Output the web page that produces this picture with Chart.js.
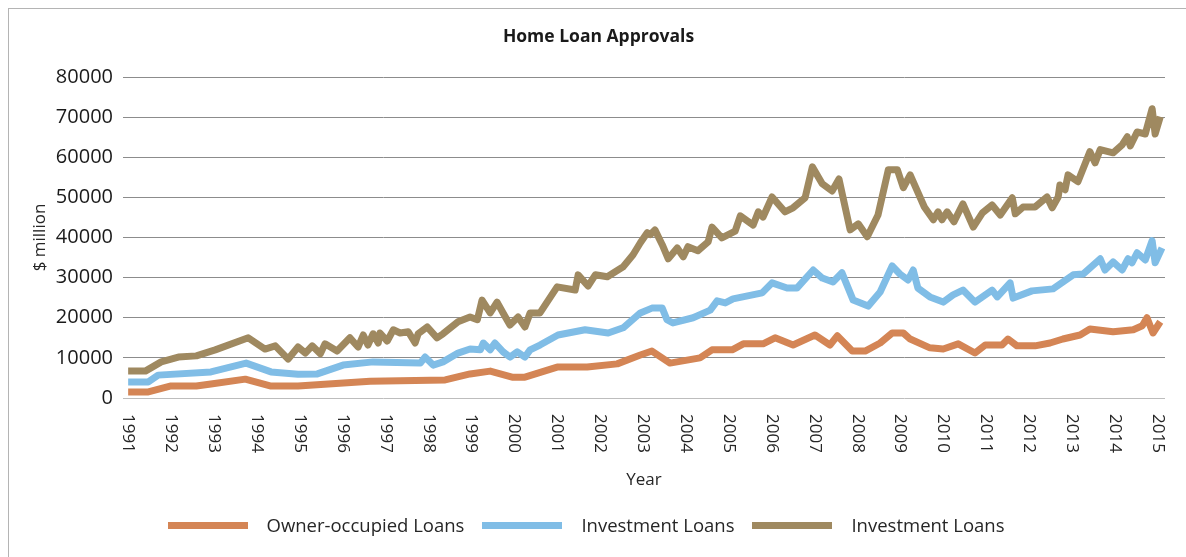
<!DOCTYPE html>
<html>
<head>
<meta charset="utf-8">
<script src="https://cdn.jsdelivr.net/npm/chart.js@4/dist/chart.umd.min.js"></script>
<style>
  html, body { margin: 0; padding: 0; background: #fff; }
  #wrap { position: relative; width: 1186px; height: 557px; overflow: hidden; }
  #frame { position: absolute; left: 8px; top: 8px; width: 1200px; height: 600px;
           border-left: 1px solid #b4b4b4; border-top: 1px solid #b4b4b4; }
  canvas { position: absolute; left: 0; top: 0; }
  #title { position: absolute; left: 0; top: 24px; width: 1175px; padding-left: 11px; text-align: center;
           font: bold 17.5px/22px "Open Sans", sans-serif; color: #1a1a1a; }
  #legend { position: absolute; left: 0; width: 1172px; padding-right: 14px; top: 512px; display: flex;
            justify-content: center; font: 18.5px/26px "Open Sans", sans-serif; color: #262626; }
  .item { display: flex; align-items: center; margin: 0 9px; }
  .swatch { width: 80px; height: 7px; margin-right: 19px; }
</style>
</head>
<body>
<div id="wrap">
  <div id="frame"></div>
  <canvas id="loanChart" width="1186" height="557"></canvas>
  <div id="title">Home Loan Approvals</div>
  <div id="legend"></div>
</div>
<script>
const yearLabels = ['1991','1992','1993','1994','1995','1996','1997','1998','1999','2000','2001','2002',
  '2003','2004','2005','2006','2007','2008','2009','2010','2011','2012','2013','2014','2015'];
const seriesNames = ['Owner-occupied Loans', 'Investment Loans', 'Investment Loans'];
const seriesColors = ['#d48555', '#80bde6', '#9f8960'];

const ownerYears = [1991.00,1991.47,1992.00,1992.59,1992.93,1993.73,1994.31,1994.96,1996.64,1998.39,1998.97,1999.44,
  1999.95,2000.25,2001.00,2001.70,2002.40,2002.94,2003.21,2003.63,2004.33,2004.61,2005.08,2005.34,2005.80,2006.08,
  2006.50,2007.01,2007.36,2007.53,2007.88,2008.18,2008.53,2008.81,2009.07,2009.23,2009.69,2010.00,2010.35,2010.74,
  2010.98,2011.37,2011.51,2011.72,2012.14,2012.49,2012.79,2013.19,2013.42,2013.96,2014.43,2014.64,2014.75,2014.89,2015.06];
const ownerValues = [1500,1500,3000,3000,3500,4700,3000,3000,4200,4500,6000,6700,
  5200,5200,7700,7700,8500,10700,11700,8700,10000,12000,12000,13500,13500,15000,
  13200,15700,13200,15500,11700,11700,13700,16200,16200,14700,12500,12200,13500,11200,
  13200,13200,14700,13000,13000,13700,14700,15700,17200,16500,17000,18000,20000,16200,19000];

const investYears = [1991.00,1991.47,1991.70,1992.93,1993.75,1994.33,1994.96,1995.41,1996.01,1996.71,1997.81,1997.92,
  1998.11,1998.34,1998.69,1998.97,1999.21,1999.28,1999.44,1999.55,1999.74,1999.90,2000.07,2000.25,2000.37,2000.60,
  2001.02,2001.65,2002.19,2002.54,2002.94,2003.21,2003.45,2003.56,2003.70,2004.17,2004.57,2004.73,2004.92,2005.10,
  2005.78,2006.01,2006.36,2006.59,2006.97,2007.18,2007.43,2007.64,2007.90,2008.25,2008.53,2008.81,2008.99,2009.18,
  2009.30,2009.41,2009.69,2010.00,2010.23,2010.46,2010.74,2011.14,2011.26,2011.56,2011.63,2012.07,2012.56,2013.03,
  2013.26,2013.66,2013.77,2013.96,2014.17,2014.31,2014.40,2014.52,2014.71,2014.87,2014.94,2015.10];
const investValues = [4000,4000,5700,6500,8700,6500,5900,6000,8200,9000,8700,10200,
  8200,9000,11200,12200,12000,13700,12000,13700,11500,10200,11500,10200,12000,13200,
  15700,17000,16200,17500,21200,22400,22400,19500,18700,20000,21900,24200,23700,24700,
  26200,28700,27400,27400,31900,29900,28900,31200,24400,22900,26400,32900,30900,29400,
  31900,27400,25200,23900,25700,26900,23900,26900,25200,28700,24900,26700,27200,30700,
  30900,34700,31900,33900,31900,34700,33700,36200,34400,39200,33700,37400];

const totalYears = [1991.00,1991.40,1991.77,1992.17,1992.59,1993.03,1993.80,1994.19,1994.43,1994.73,1994.96,1995.13,
  1995.29,1995.48,1995.59,1995.87,1996.17,1996.36,1996.48,1996.59,1996.71,1996.83,1996.87,1997.04,1997.18,1997.34,
  1997.53,1997.69,1997.76,1997.97,1998.20,1998.34,1998.69,1998.97,1999.14,1999.25,1999.44,1999.60,1999.74,1999.90,
  2000.09,2000.25,2000.37,2000.60,2001.00,2001.42,2001.49,2001.72,2001.89,2002.17,2002.54,2002.77,2002.94,2003.10,
  2003.17,2003.28,2003.45,2003.59,2003.80,2003.94,2004.05,2004.28,2004.52,2004.61,2004.84,2005.15,2005.27,2005.57,
  2005.69,2005.80,2006.01,2006.31,2006.50,2006.78,2006.95,2007.18,2007.41,2007.57,2007.83,2008.02,2008.23,2008.48,
  2008.72,2008.93,2009.07,2009.23,2009.56,2009.77,2009.88,2009.97,2010.09,2010.25,2010.46,2010.70,2010.91,2011.14,
  2011.33,2011.61,2011.68,2011.86,2012.14,2012.42,2012.54,2012.68,2012.72,2012.84,2012.91,2013.14,2013.42,2013.54,
  2013.66,2013.96,2014.17,2014.29,2014.36,2014.52,2014.71,2014.87,2014.94,2015.06];
const totalValues = [6700,6700,9000,10200,10500,12000,15000,12200,13000,9700,12700,11200,
  13000,11000,13500,11700,15000,12700,15700,13200,16000,13700,16200,14200,17000,16200,
  16500,13700,16000,17700,15000,16000,19000,20200,19500,24400,21200,23900,21200,18200,
  20200,17700,21200,21200,27700,26900,30700,27900,30700,30200,32700,35700,38700,41200,
  40700,41900,38200,34700,37400,35200,37700,36700,38900,42600,39900,41600,45400,43100,
  46400,45100,50100,46400,47400,49900,57600,53400,51600,54600,41900,43400,40200,45600,
  56900,56900,52400,55600,47600,44400,46400,44400,46400,43900,48400,42600,46100,48100,
  45600,49900,45900,47600,47600,50100,47400,50100,53100,51900,55600,53900,61400,58600,
  61900,61100,63100,65100,62800,66300,65800,72100,65800,70100];

function toPoints(xs, ys) {
  return xs.map((x, i) => ({ x: x, y: ys[i] }));
}

const allSeries = [toPoints(ownerYears, ownerValues), toPoints(investYears, investValues), toPoints(totalYears, totalValues)];

// year labels read top-to-bottom, so draw them ourselves at the scale's tick positions
const yearTickLabels = {
  id: 'yearTickLabels',
  afterDraw(chart) {
    const xs = chart.scales.x, ctx = chart.ctx;
    ctx.save();
    ctx.font = '17px "Open Sans"';
    ctx.fillStyle = '#262626';
    ctx.textAlign = 'left';
    ctx.textBaseline = 'middle';
    xs.ticks.forEach((t, i) => {
      ctx.save();
      ctx.translate(xs.getPixelForValue(t.value), xs.top + 16);
      ctx.rotate(Math.PI / 2);
      ctx.fillText(yearLabels[i], 0, 0);
      ctx.restore();
    });
    ctx.restore();
  }
};

new Chart(document.getElementById('loanChart').getContext('2d'), {
  type: 'line',
  data: {
    datasets: allSeries.map((pts, i) => ({
      label: seriesNames[i],
      data: pts,
      borderColor: seriesColors[i],
      backgroundColor: seriesColors[i],
      borderWidth: 7,
      borderJoinStyle: 'round',
      pointRadius: 0,
      tension: 0
    }))
  },
  options: {
    responsive: false,
    animation: false,
    layout: { padding: { left: 0, right: 21, top: 77, bottom: 51 } },
    plugins: {
      legend: { display: false },
      tooltip: { enabled: false }
    },
    scales: {
      x: {
        type: 'linear',
        min: 1990.88,
        max: 2015.17,
        afterBuildTicks: s => { s.ticks = yearLabels.map(y => ({ value: Number(y) })); },
        afterFit: s => { s.height = 108; },
        ticks: { display: false },
        grid: { display: false },
        border: { display: false },
        title: {
          display: true,
          text: 'Year',
          color: '#262626',
          font: { family: 'Open Sans', size: 17 },
          padding: { top: 0, bottom: 16 }
        }
      },
      y: {
        min: 0,
        max: 80000,
        afterFit: s => { s.width = 123; },
        ticks: {
          stepSize: 10000,
          padding: 10,
          color: '#1a1a1a',
          font: { family: 'Open Sans', size: 20 },
          callback: v => String(v)
        },
        grid: {
          color: c => c.tick.value === 0 ? '#bdbdbd' : '#8c8c8c',
          drawTicks: false
        },
        border: { display: false },
        title: {
          display: true,
          text: '$ million',
          color: '#262626',
          font: { family: 'Open Sans', size: 17 },
          padding: { top: 30, bottom: 0 }
        }
      }
    }
  },
  plugins: [yearTickLabels]
});

const legend = document.getElementById('legend');
seriesNames.forEach((name, i) => {
  const item = document.createElement('div');
  item.className = 'item';
  const sw = document.createElement('div');
  sw.className = 'swatch';
  sw.style.background = seriesColors[i];
  const txt = document.createElement('span');
  txt.textContent = name;
  item.appendChild(sw);
  item.appendChild(txt);
  legend.appendChild(item);
});
</script>
</body>
</html>
